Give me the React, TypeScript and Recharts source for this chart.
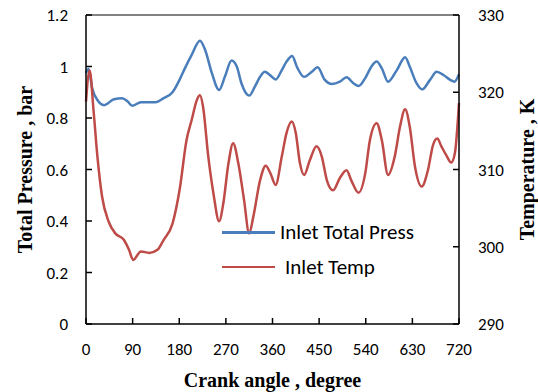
import { LineChart, Line, XAxis, YAxis, Legend, ReferenceLine } from 'recharts'

// Inlet total pressure (bar) vs crank angle (deg)
const pressAngle = [0, 5, 12, 22, 35, 54, 70, 80, 89, 106, 134, 150, 167, 181, 189, 204, 220, 230, 243, 257, 268, 281, 291, 300, 315, 326, 336, 345, 355, 366, 378, 387, 398, 407, 421, 436, 447, 461, 475, 490, 503, 516, 526, 539, 551, 561, 571, 583, 600, 616, 625, 638, 649, 664, 677, 690, 703, 711, 720]
const pressValue = [0.975, 0.99, 0.915, 0.87, 0.85, 0.873, 0.877, 0.865, 0.848, 0.861, 0.861, 0.877, 0.9, 0.95, 0.985, 1.045, 1.1, 1.064, 0.974, 0.909, 0.96, 1.023, 1.0, 0.935, 0.887, 0.922, 0.96, 0.98, 0.967, 0.95, 0.986, 1.019, 1.041, 0.999, 0.96, 0.98, 0.997, 0.948, 0.932, 0.941, 0.958, 0.935, 0.924, 0.955, 1.0, 1.019, 0.993, 0.941, 0.986, 1.036, 0.999, 0.935, 0.911, 0.948, 0.98, 0.967, 0.948, 0.941, 0.97]

// Inlet temperature (K) vs crank angle (deg)
const tempAngle = [0, 7, 15, 22, 31, 44, 57, 73, 83, 91, 106, 122, 138, 150, 167, 181, 194, 204, 214, 220, 226, 236, 246, 257, 265, 275, 284, 294, 305, 315, 323, 336, 347, 356, 366, 378, 387, 397, 405, 413, 421, 432, 445, 455, 465, 477, 490, 503, 512, 526, 539, 548, 561, 571, 583, 596, 606, 616, 625, 635, 648, 660, 670, 678, 686, 695, 705, 712, 720]
const tempValue = [318.8, 322.8, 317.3, 311.7, 306.5, 303.2, 301.7, 300.9, 299.6, 298.3, 299.4, 299.2, 299.6, 300.9, 303.0, 307.5, 313.8, 316.4, 319.0, 319.6, 318.1, 311.7, 306.9, 303.3, 305.6, 310.8, 313.4, 310.8, 306.1, 301.7, 303.9, 308.6, 310.5, 309.5, 308.0, 311.7, 314.7, 316.2, 314.7, 310.8, 309.3, 311.2, 313.0, 311.7, 308.6, 307.3, 308.9, 309.9, 308.6, 307.0, 309.5, 313.8, 316.0, 313.8, 309.3, 311.7, 315.5, 317.8, 315.5, 310.4, 307.8, 309.9, 313.2, 314.0, 313.0, 311.9, 310.9, 312.1, 318.6]

const seriesNames = ['Inlet Total Press', 'Inlet Temp']
const angleTicks = [0, 90, 180, 270, 360, 450, 540, 630, 720]
const pressTicks = [0, 0.2, 0.4, 0.6, 0.8, 1, 1.2]
const tempTicks = [290, 300, 310, 320, 330]

const pressData = pressAngle.map((a, i) => ({ angle: a, press: pressValue[i] }))
const tempData = tempAngle.map((a, i) => ({ angle: a, temp: tempValue[i] }))

const tickFont = { fill: '#000', fontSize: 17, fontFamily: 'Carlito, Lato, sans-serif' }
const titleFont = { fill: '#000', fontSize: 20, fontWeight: 700, fontFamily: '"Liberation Serif", serif' }

const LegendBox = ({ payload }: { payload?: { value: string; color: string }[] }) => {
  const items = [...(payload ?? [])].sort((a, b) => seriesNames.indexOf(a.value) - seriesNames.indexOf(b.value))
  return (
    <div style={{ fontFamily: 'Carlito, Lato, sans-serif', fontSize: 21, color: '#000' }}>
      {items.map((p, i) => (
        <div key={p.value} style={{ display: 'flex', alignItems: 'center', height: 34.6 }}>
          <span style={{ display: 'inline-block', width: 53, height: 2.5, background: p.color }} />
          <span style={{ marginLeft: i === 0 ? 5 : 10 }}>{p.value}</span>
        </div>
      ))}
    </div>
  )
}

export default function App() {
  return (
    <div style={{ position: 'absolute', left: 0, top: 0, background: '#fff' }}>
      <LineChart width={538} height={392} margin={{ top: 15, right: 20, bottom: 8, left: 0 }}>
        <XAxis
          dataKey="angle" type="number" domain={[0, 720]} ticks={angleTicks}
          height={60} tickSize={-6} tickMargin={25}
          stroke="#000" strokeWidth={1.5} tick={tickFont}
          label={{ value: 'Crank angle , degree', position: 'center', dy: 26, style: titleFont }}
        />
        <YAxis
          yAxisId="p" domain={[0, 1.2]} ticks={pressTicks} width={86}
          tickSize={-6} tickMargin={24} stroke="#000" strokeWidth={1.5} tick={tickFont}
          label={{ value: 'Total Pressure , bar', angle: -90, position: 'center', dx: -18, style: titleFont }}
        />
        <YAxis
          yAxisId="t" orientation="right" domain={[290, 330]} ticks={tempTicks} width={59}
          tickSize={-6} tickMargin={25} stroke="#000" strokeWidth={1.5} tick={tickFont}
          label={{ value: 'Temperature , K', angle: -90, position: 'center', dx: 38, style: titleFont }}
        />
        <ReferenceLine yAxisId="p" y={1.2} stroke="#595959" strokeWidth={1.5} />
        <Line
          yAxisId="p" data={pressData} dataKey="press" name={seriesNames[0]}
          type="monotone" stroke="#4a7ebb" strokeWidth={2.5} dot={false} isAnimationActive={false}
        />
        <Line
          yAxisId="t" data={tempData} dataKey="temp" name={seriesNames[1]}
          type="monotone" stroke="#be4b48" strokeWidth={2.5} dot={false} isAnimationActive={false}
        />
        <Legend
          layout="horizontal" verticalAlign="middle" align="center"
          wrapperStyle={{ left: 222, top: 215, width: 230, height: 70 }}
          content={<LegendBox />}
        />
      </LineChart>
    </div>
  )
}
